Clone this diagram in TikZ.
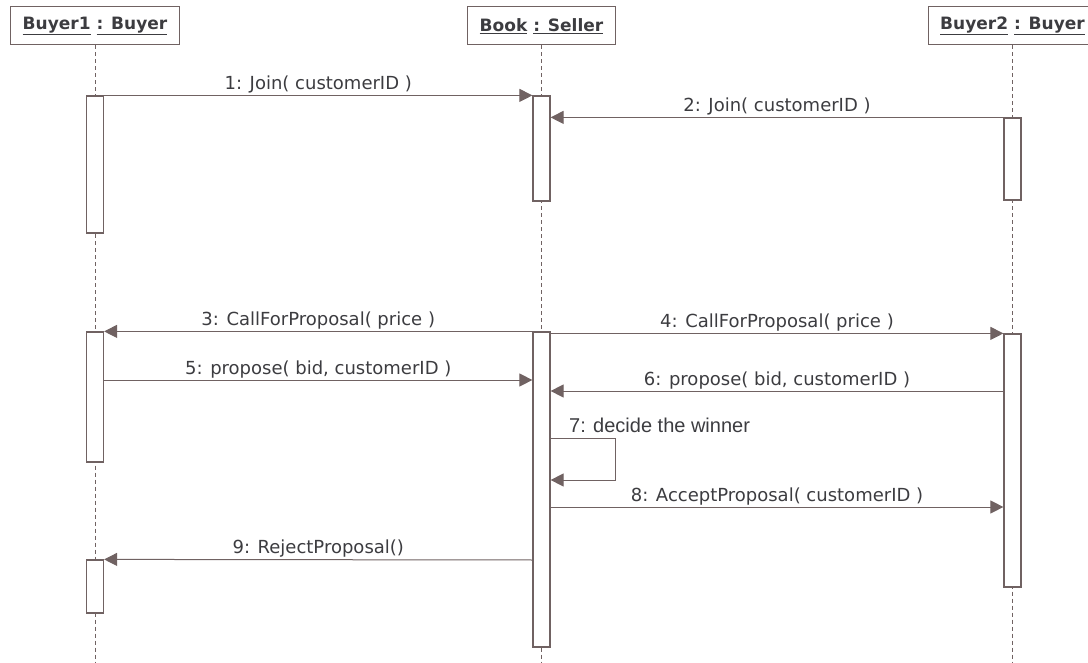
\documentclass[tikz,border=0pt]{standalone}
\usepackage{fontspec}
\setmainfont{DejaVu Sans}
\newfontfamily\notefont{Liberation Sans}
\usepackage{xcolor}
\definecolor{linegray}{RGB}{112, 98, 98}
\definecolor{textgray}{RGB}{60, 60, 64}
\usetikzlibrary{arrows.meta, positioning, calc}

\begin{document}
\begin{tikzpicture}[x=1pt, y=-1pt, >={Triangle[length=13pt, width=13pt]},
    object/.style={draw=linegray, line width=1pt, fill=white, inner xsep=12pt, minimum height=38pt,
        text=textgray, font=\fontsize{17}{20}\selectfont\bfseries},
    lifeline/.style={draw=linegray, line width=0.9pt, dash pattern=on 4pt off 3pt},
    act/.style={draw=linegray, line width=1.2pt, fill=white, minimum width=17pt, inner sep=0pt},
    msg/.style={draw=linegray, line width=1pt, ->},
    msglabel/.style={midway, anchor=base, yshift=6pt, text=textgray, font=\fontsize{18}{20}\selectfont}]
    \useasboundingbox (0, 0) rectangle (1088, 663);

    \node[object] (buyer1) at (95, 26) {\underline{Buyer1} \underline{: Buyer}};
    \node[object] (seller) at (541.5, 26) {\underline{Book} \underline{: Seller}};
    \node[object] (buyer2) at (1012.5, 26) {\underline{Buyer2} \underline{: Buyer}};

    \coordinate (bottom) at (0, 663);
    \draw[lifeline] (buyer1.south) -- (buyer1.south |- bottom);
    \draw[lifeline] (seller.south) -- (seller.south |- bottom);
    \draw[lifeline] (buyer2.south) -- (buyer2.south |- bottom);

    \node[act, minimum height=137pt] (b1a) at (95, 164.5) {};
    \node[act, minimum height=130pt] (b1b) at (95, 397) {};
    \node[act, minimum height=53pt] (b1c) at (95, 586.5) {};
    \node[act, minimum height=105pt] (sa) at (541.5, 148.5) {};
    \node[act, minimum height=315pt] (sb) at (541.5, 489.5) {};
    \node[act, minimum height=82pt] (b2a) at (1012.5, 159) {};
    \node[act, minimum height=253pt] (b2b) at (1012.5, 460.5) {};

    \coordinate (y5) at (0, 380);
    \coordinate (y6) at (0, 391);
    \coordinate (y7) at (0, 438);
    \coordinate (y7r) at (0, 480);
    \coordinate (y8) at (0, 507);
    \coordinate (y9) at (0, 560);

    \draw[msg] (b1a.north east) -- (sa.north west) node[msglabel] {1: Join( customerID )};
    \draw[msg] (b2a.north west) -- (sa.east |- b2a.north west) node[msglabel] {2: Join( customerID )};
    \draw[msg] (sb.west |- b1b.north) -- (b1b.north east) node[msglabel] {3: CallForProposal( price )};
    \draw[msg] (sb.east |- b2b.north) -- (b2b.north west) node[msglabel] {4: CallForProposal( price )};
    \draw[msg] (b1b.east |- y5) -- (sb.west |- y5) node[msglabel] {5: propose( bid, customerID )};
    \draw[msg] (b2b.west |- y6) -- (sb.east |- y6) node[msglabel] {6: propose( bid, customerID )};
    \draw[msg] (sb.east |- y7) -- ++(65, 0) -- ++(0, 42) -- (sb.east |- y7r);
    \node[anchor=base west, text=textgray, font=\notefont\fontsize{20}{22}\selectfont] (note7)
        at ($(sb.east |- y7) + (15, -6)$) {7: decide the winner};
    \draw[msg] (sb.east |- y8) -- (b2b.west |- y8) node[msglabel] {8: AcceptProposal( customerID )};
    \draw[msg] (sb.west |- y9) -- (b1c.north east) node[msglabel] {9: RejectProposal()};
\end{tikzpicture}
\end{document}
